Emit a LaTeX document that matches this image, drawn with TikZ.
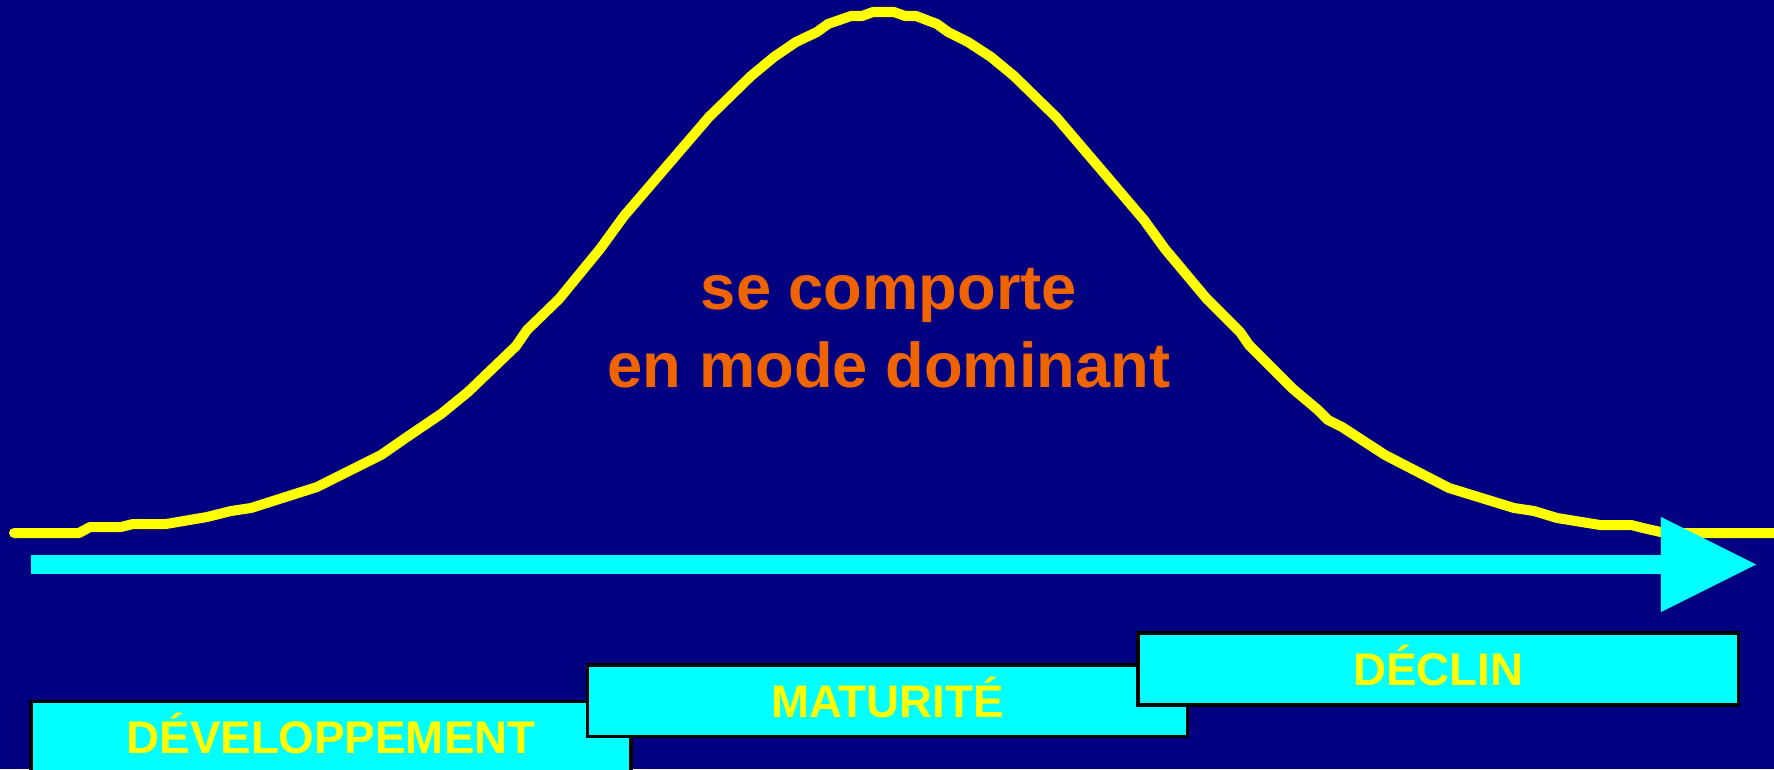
\documentclass[tikz,border=0pt]{standalone}
\usepackage{fontspec}
\setmainfont{Liberation Sans}
\usepackage{tikz}
\usetikzlibrary{arrows.meta}

\definecolor{navyblue}{RGB}{0,0,128}
\definecolor{aqua}{RGB}{0,255,255}
\definecolor{lemon}{RGB}{255,255,0}
\definecolor{pumpkin}{RGB}{240,100,0}

\begin{document}
\begin{tikzpicture}[
    x=0.01cm, y=0.01cm,
    phase/.style={rectangle, draw=black, line width=1pt, fill=aqua, text=lemon, minimum width=6cm, minimum height=0.715cm, inner sep=0pt, text height=9.3pt, text depth=0pt, font=\fontsize{13}{15}\selectfont\bfseries},
    curve/.style={lemon, line width=0.1cm, line cap=round, line join=round},
    axis/.style={-{Triangle[length=0.95cm, width=0.95cm, line width=0pt]}, aqua, line width=0.19cm}
]

\useasboundingbox (0,0) rectangle (1774,769);
\clip (0,0) rectangle (1774,769);
\fill [navyblue] (0,0) rectangle (1774,769);

\draw [curve] plot coordinates {(14,236) (79,236) (90,242) (121,242) (133,245) (166,245) (207,252) (231,258) (251,261) (317,282) (381,314) (407,332) (441,355) (468,377) (516,423) (527,439) (559,470) (600,520) (624,553) (709,652) (751,693) (774,712) (796,727) (817,737) (828,745) (851,753) (862,753) (873,757) (894,757) (905,753) (916,753) (937,745) (948,737) (968,727) (991,712) (1014,693) (1057,651) (1144,549) (1165,520) (1206,471) (1240,437) (1249,424) (1293,380) (1318,359) (1328,349) (1342,342) (1385,314) (1449,281) (1514,261) (1534,258) (1557,251) (1600,244) (1631,244) (1643,241) (1665,236) (1790,236)};

\coordinate (start) at (31,204.5);
\coordinate (end) at (1756,204.5);
\draw [axis] (start) -- (end);

\node (dominant) [anchor=base, align=center, text=pumpkin, font=\fontsize{18}{21.9}\selectfont\bfseries] at (889,382) {se comporte\\en mode dominant};

\node (dev) [phase] at (331,31.75) {DÉVELOPPEMENT};
\node (mat) [phase] at (887.5,68.25) {MATURITÉ};
\node (dec) [phase] at (1438.25,100) {DÉCLIN};

\end{tikzpicture}
\end{document}
